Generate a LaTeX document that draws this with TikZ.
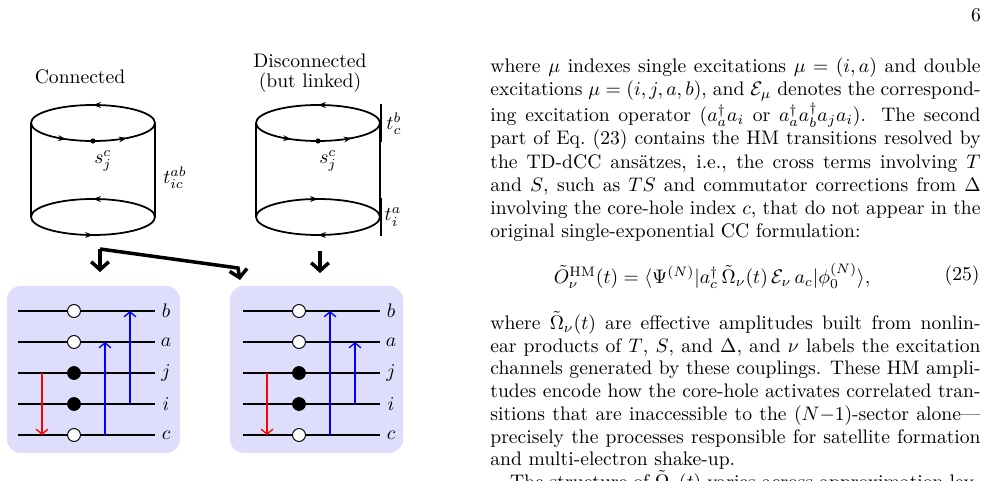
\documentclass[tikz,border=0pt]{standalone}
\usepackage{amsmath,amssymb}
\usepackage{xcolor}
\usetikzlibrary{arrows.meta,decorations.markings}
\definecolor{boxblue}{RGB}{222,222,252}
\tikzset{
  cyl/.style={line width=0.9pt},
  loopmid/.style={postaction={decorate},decoration={markings,mark=at position 0.5 with {\arrow{Stealth[length=4pt]}}}},
  looptwo/.style={postaction={decorate},decoration={markings,
      mark=at position 0.3 with {\arrow{Stealth[length=4pt]}},
      mark=at position 0.75 with {\arrow{Stealth[length=4pt]}}}},
  bigarrow/.style={line width=1.8pt,-{Straight Barb[length=4pt,width=9pt]}},
  level/.style={line width=0.7pt},
  hole/.style={circle,draw,fill=white,line width=0.5pt,minimum size=6.6pt,inner sep=0pt},
  part/.style={circle,draw,fill=black,minimum size=6.6pt,inner sep=0pt},
  dex/.style={red,line width=0.7pt,-{Straight Barb[length=2.5pt,width=6pt]}},
  exc/.style={blue,line width=0.7pt,-{Straight Barb[length=2.5pt,width=6pt]}},
  panel/.style={fill=boxblue,rounded corners=7pt},
  body/.style={anchor=north west,inner sep=0pt,text width=250pt,align=justify}
}
\begin{document}
\begin{tikzpicture}[x=0.51pt,y=-0.51pt]
\useasboundingbox (0,0) rectangle (986,481);
\clip (0,0) rectangle (986,481);
\node (pg) at (976,15) {6};

% titles
\node (ttlA) at (80,77) {Connected};
\node[align=center] (ttlB) at (310,73) {Disconnected\\[-2pt](but linked)};

% connected cylinder
\draw[cyl,loopmid] (155,123) arc (0:-180:62 and 18);
\draw[cyl,looptwo] (31,123) arc (180:0:62 and 18);
\draw[cyl,loopmid] (155,217) arc (0:-180:62 and 18);
\draw[cyl,loopmid] (31,217) arc (180:0:62 and 18);
\draw[cyl] (31,123) -- (31,217) (155,123) -- (155,217);
\fill (93,141) circle (2.6);
\node (sA) at (103,161) {$s_j^c$};
\node (tA) at (175,178) {$t_{ic}^{ab}$};

% disconnected cylinder
\draw[cyl,loopmid] (380,123) arc (0:-180:62 and 18);
\draw[cyl,looptwo] (256,123) arc (180:0:62 and 18);
\draw[cyl,loopmid] (256,217) arc (-180:0:62 and 18);
\draw[cyl,loopmid] (380,217) arc (0:180:62 and 18);
\draw[cyl] (256,123) -- (256,217) (380,123) -- (380,217);
\draw[cyl] (381,104) -- (381,142) (381,198) -- (381,236);
\fill (318,141) circle (2.6);
\node (sB) at (328,161) {$s_j^c$};
\node (tB1) at (394,124) {$t_c^b$};
\node (tB2) at (393,217) {$t_i^a$};

% big arrows
\coordinate (kA) at (100,249);
\coordinate (kB) at (238,268);
\draw[bigarrow] (kA) -- (100,272);
\draw[bigarrow] (kA) -- (kB) -- (240,280);
\draw[bigarrow] (320,251) -- (320,273);

% panels
\fill[panel] (7,286) rectangle (180,453);
\fill[panel] (230,286) rectangle (403,453);

\foreach \off/\nm in {0/L,225/R}{
  \foreach \y/\lab in {311/b,342/a,373/j,404/i,435/c}{
    \coordinate (\nm s\lab) at (18+\off,\y);
    \coordinate (\nm e\lab) at (155+\off,\y);
    \draw[level] (\nm s\lab) -- (\nm e\lab);
    \node (\nm t\lab) at (166+\off,\y) {$\lab$};
  }
  \node[hole] (\nm hb) at (74+\off,311) {};
  \node[hole] (\nm ha) at (74+\off,342) {};
  \node[part] (\nm pj) at (74+\off,373) {};
  \node[part] (\nm pi) at (74+\off,404) {};
  \node[hole] (\nm hc) at (74+\off,435) {};
}
\coordinate (Lr1) at (42,373);  \coordinate (Lr2) at (42,435);
\coordinate (Lu1) at (105,435); \coordinate (Lu2) at (105,342);
\coordinate (Lv1) at (130,404); \coordinate (Lv2) at (130,311);
\draw[dex] (Lr1) -- (Lr2);
\draw[exc] (Lu1) -- (Lu2);
\draw[exc] (Lv1) -- (Lv2);
\coordinate (Rr1) at (267,373); \coordinate (Rr2) at (267,435);
\coordinate (Ru1) at (330,435); \coordinate (Ru2) at (330,311);
\coordinate (Rv1) at (355,404); \coordinate (Rv2) at (355,342);
\draw[dex] (Rr1) -- (Rr2);
\draw[exc] (Ru1) -- (Ru2);
\draw[exc] (Rv1) -- (Rv2);

% text column
\node[body] (par1) at (490,57) {\baselineskip=11.8pt
where $\mu$ indexes single excitations $\mu=(i,a)$ and double\linebreak
excitations $\mu=(i,j,a,b)$, and $\mathcal{E}_\mu$ denotes the correspond-\linebreak
ing excitation operator ($a_a^\dagger a_i$ or $a_a^\dagger a_b^\dagger a_j a_i$). The second\linebreak
part of Eq.~(23) contains the HM transitions resolved by\linebreak
the TD-dCC ans\"atzes, i.e., the cross terms involving $T$\linebreak
and $S$, such as $TS$ and commutator corrections from $\Delta$\linebreak
involving the core-hole index $c$, that do not appear in the\linebreak
original single-exponential CC formulation:\par};
\node (eq) at (712,276) {$\tilde O_\nu^{\mathrm{HM}}(t)=\langle\Psi^{(N)}|a_c^\dagger\,\tilde\Omega_\nu(t)\,\mathcal{E}_\nu\,a_c|\phi_0^{(N)}\rangle,$};
\node[anchor=east,inner sep=0pt] (eqn) at (980,276) {(25)};
\node[body] (par2) at (490,311) {\baselineskip=11.6pt
where $\tilde\Omega_\nu(t)$ are effective amplitudes built from nonlin-\linebreak
ear products of $T$, $S$, and $\Delta$, and $\nu$ labels the excitation\linebreak
channels generated by these couplings. These HM ampli-\linebreak
tudes encode how the core-hole activates correlated tran-\linebreak
sitions that are inaccessible to the $(N{-}1)$-sector alone---\linebreak
precisely the processes responsible for satellite formation\linebreak
and multi-electron shake-up.\par
\hspace*{10pt}The structure of $\tilde\Omega_\nu(t)$ varies across approximation lev-\par};
\end{tikzpicture}
\end{document}
